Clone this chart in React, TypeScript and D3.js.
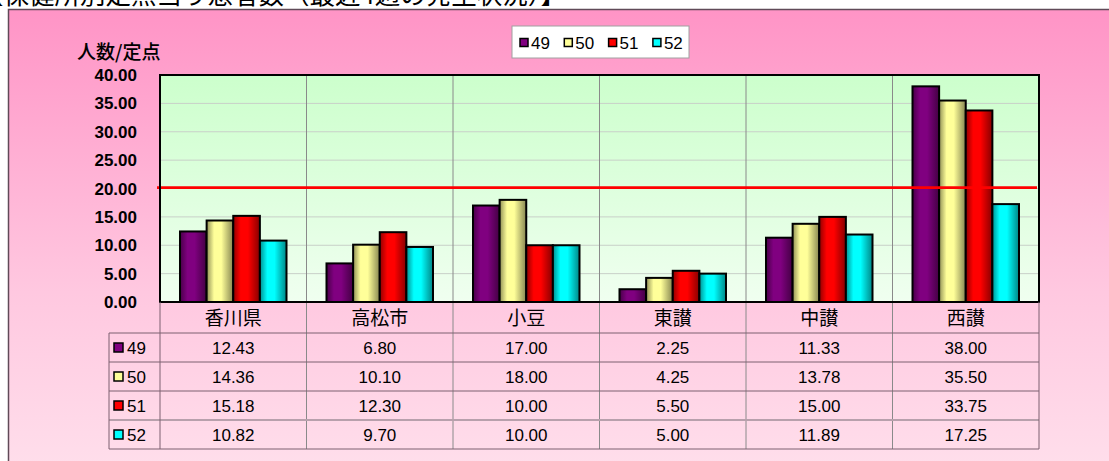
import React from "react";
import * as d3 from "d3";

const categories = ["香川県", "高松市", "小豆", "東讃", "中讃", "西讃"];
const seriesNames = ["49", "50", "51", "52"];
const s49 = [12.43, 6.8, 17.0, 2.25, 11.33, 38.0];
const s50 = [14.36, 10.1, 18.0, 4.25, 13.78, 35.5];
const s51 = [15.18, 12.3, 10.0, 5.5, 15.0, 33.75];
const s52 = [10.82, 9.7, 10.0, 5.0, 11.89, 17.25];
const seriesValues = [s49, s50, s51, s52];
const seriesColors = ["#800080", "#FFFF99", "#FF0000", "#00FFFF"];
const yTicks = [0, 5, 10, 15, 20, 25, 30, 35, 40];
const thresholdValue = 20;
const yTitle = "人数/定点";
const title = "【保健所別定点当り患者数（最近4週の発生状況）】";

const W = 1109;
const H = 461;
const PL = 160, PR = 1039, PT = 75, PB = 302;
const headerBottom = 333;
const rowH = 29;
const tableLeft = 109;
const FONT = "'Liberation Sans', Arial, 'Noto Sans CJK JP', sans-serif";
const CJK = "'Noto Sans CJK JP', sans-serif";

export default function App() {
  const x = d3.scaleBand<string>().domain(categories).range([PL, PR]).paddingInner(0).paddingOuter(0);
  const bw = x.bandwidth();
  const inner = d3.scaleBand<string>().domain(seriesNames).range([bw * 0.1365, bw * (1 - 0.1365)]).padding(0);
  const y = d3.scaleLinear().domain([0, 40]).range([PB, PT]);
  const fmt = d3.format(".2f");
  const lineColor = "#7d6070";

  return (
    <svg width={W} height={H} style={{ position: "absolute", left: 0, top: 0 }} fontFamily={FONT}>
      <defs>
        <linearGradient id="bg" x1="0" y1="0" x2="0" y2="1">
          <stop offset="0" stopColor="#FF94C6" />
          <stop offset="0.6" stopColor="#FFC8E0" />
          <stop offset="1" stopColor="#FFE0EC" />
        </linearGradient>
        <linearGradient id="plotbg" x1="0" y1="0" x2="0" y2="1">
          <stop offset="0" stopColor="#CCFFCC" />
          <stop offset="1" stopColor="#F0FFF0" />
        </linearGradient>
        {seriesColors.map((c, i) => {
          const base = d3.color(c)!;
          return (
            <linearGradient key={i} id={`bar${i}`} x1="0" y1="0" x2="1" y2="0">
              <stop offset="0" stopColor={base.darker(1.6).formatHex()} />
              <stop offset="0.28" stopColor={c} />
              <stop offset="0.55" stopColor={c} />
              <stop offset="1" stopColor={base.darker(1.8).formatHex()} />
            </linearGradient>
          );
        })}
      </defs>
      <rect x={0} y={0} width={W} height={H} fill="#ffffff" />
      <text x={566} y={4} textAnchor="end" fontSize={25.5} fontFamily={CJK} fill="#000">{title}</text>
      <rect x={8.5} y={9.5} width={W + 10} height={H + 10} fill="url(#bg)" stroke="#604a58" strokeWidth={1.5} />

      {/* plot background */}
      <rect x={PL} y={PT} width={PR - PL} height={PB - PT} fill="url(#plotbg)" />
      {yTicks.filter((t) => t > 0 && t < 40).map((t) => (
        <line key={t} x1={PL} x2={PR} y1={y(t)} y2={y(t)} stroke="#c8d0c8" strokeWidth={1} />
      ))}
      {categories.slice(1).map((c) => (
        <line key={c} x1={x(c)!} x2={x(c)!} y1={PT} y2={headerBottom + rowH * 4} stroke="#8a8a8a" strokeWidth={1} />
      ))}

      {/* bars */}
      {seriesValues.map((vals, si) =>
        vals.map((v, ci) => (
          <rect
            key={`${si}-${ci}`}
            x={x(categories[ci])! + inner(seriesNames[si])!}
            y={y(v)}
            width={inner.bandwidth()}
            height={PB - y(v)}
            fill={`url(#bar${si})`}
            stroke="#000"
            strokeWidth={2}
          />
        ))
      )}

      {/* threshold */}
      <line x1={157} x2={1037} y1={y(thresholdValue) - 0.8} y2={y(thresholdValue) - 0.8} stroke="#FF0000" strokeWidth={2.8} />

      {/* plot border */}
      <rect x={PL} y={PT} width={PR - PL} height={PB - PT} fill="none" stroke="#000" strokeWidth={2} />

      {/* y axis labels */}
      {yTicks.map((t) => (
        <text key={t} x={137} y={y(t)} dy="0.36em" textAnchor="end" fontSize={17} fontWeight="bold" fill="#000">
          {fmt(t)}
        </text>
      ))}
      <text x={77} y={52} dy="0.36em" fontSize={19} fontFamily={CJK} fontWeight={500} fill="#000">{yTitle}</text>

      {/* legend */}
      <rect x={512} y={26} width={177} height={32} fill="#ffffff" stroke="#a0a0a0" strokeWidth={1} />
      {seriesNames.map((s, i) => (
        <g key={s} transform={`translate(${520 + i * 44.3},42.5)`}>
          <rect x={0} y={-4} width={8} height={8} fill={seriesColors[i]} stroke="#000" strokeWidth={1.5} />
          <text x={11} y={0} dy="0.36em" fontSize={17} fill="#000">{s}</text>
        </g>
      ))}

      {/* table */}
      {categories.map((c) => (
        <text key={c} x={x(c)! + bw / 2} y={(PB + headerBottom) / 2 + 1} dy="0.36em" textAnchor="middle" fontSize={19} fontFamily={CJK} fill="#000">
          {c}
        </text>
      ))}
      {[0, 1, 2, 3, 4].map((r) => (
        <line
          key={r}
          x1={tableLeft}
          x2={PR}
          y1={headerBottom + r * rowH}
          y2={headerBottom + r * rowH}
          stroke={r === 3 ? "#b8a0ac" : lineColor}
          strokeWidth={r === 3 ? 2 : 1}
        />
      ))}
      <line x1={tableLeft} x2={tableLeft} y1={headerBottom} y2={headerBottom + 4 * rowH} stroke={lineColor} strokeWidth={1} />
      <line x1={PL} x2={PL} y1={PB} y2={headerBottom + 4 * rowH} stroke={lineColor} strokeWidth={1} />
      <line x1={PR} x2={PR} y1={PB} y2={headerBottom + 4 * rowH} stroke={lineColor} strokeWidth={1} />
      {seriesNames.map((s, si) => {
        const cy = headerBottom + si * rowH + rowH / 2;
        return (
          <g key={s}>
            <rect x={114} y={cy - 4.5} width={9} height={9} fill={seriesColors[si]} stroke="#000" strokeWidth={1.5} />
            <text x={127} y={cy} dy="0.36em" fontSize={17} fill="#000">{s}</text>
            {seriesValues[si].map((v, ci) => (
              <text key={ci} x={x(categories[ci])! + bw / 2} y={cy} dy="0.36em" textAnchor="middle" fontSize={17} fill="#000">
                {fmt(v)}
              </text>
            ))}
          </g>
        );
      })}
    </svg>
  );
}
